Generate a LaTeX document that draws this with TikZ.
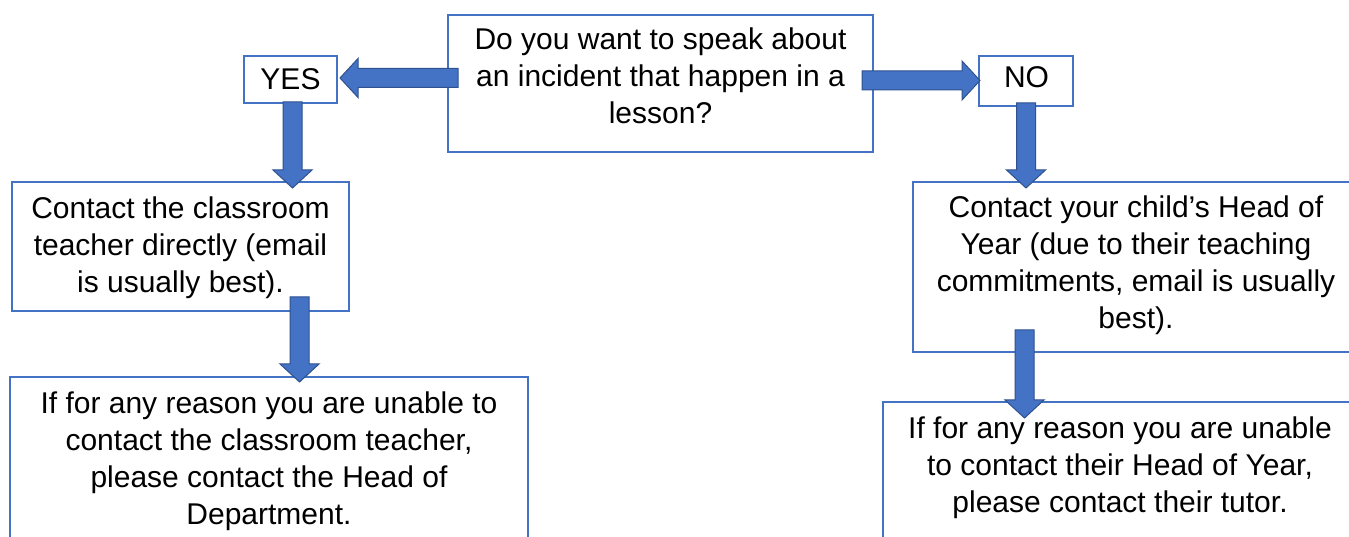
\documentclass[tikz,border=0pt]{standalone}
\usepackage{fontspec}
\setmainfont{Liberation Sans}
\usetikzlibrary{calc}
\definecolor{boxblue}{HTML}{4472C4}
\definecolor{arrowedge}{HTML}{2F528F}
\tikzset{
  box/.style={draw=boxblue, line width=1.2pt, fill=white, inner sep=0pt, outer sep=0pt},
  txt/.style={align=center, inner sep=0pt, font=\fontsize{30}{37}\selectfont, anchor=base, text=black},
  blockarrow/.style={fill=boxblue, draw=arrowedge, line width=1pt, line join=miter,
    to path={
      let \p1=(\tikztostart), \p2=(\tikztotarget),
          \n1={atan2(\y2-\y1,\x2-\x1)}, \n2={veclen(\x2-\x1,\y2-\y1)}, \n3={\n2-18}
      in ($(\p1)+(\n1+90:9.5pt)$)
      -- ($(\p1)+(\n1:\n3)+(\n1+90:9.5pt)$)
      -- ($(\p1)+(\n1:\n3)+(\n1+90:19.5pt)$)
      -- (\p2)
      -- ($(\p1)+(\n1:\n3)+(\n1-90:19.5pt)$)
      -- ($(\p1)+(\n1:\n3)+(\n1-90:9.5pt)$)
      -- ($(\p1)+(\n1-90:9.5pt)$)
      -- cycle}}
}
\begin{document}
\begin{tikzpicture}[x=1pt,y=1pt]
\useasboundingbox (0,0) rectangle (1349,537);
\clip (0,0) rectangle (1349,537);
\fill[white] (0,0) rectangle (1349,537);
% boxes
\node[box, minimum width=425pt, minimum height=137pt] (q) at (660.5,453.5) {};
\node[box, minimum width=93pt, minimum height=47pt] (yes) at (290.5,457.5) {};
\node[box, minimum width=94pt, minimum height=50pt] (no) at (1026,456) {};
\node[box, minimum width=337pt, minimum height=129pt] (c1) at (180.5,290.5) {};
\node[box, minimum width=518pt, minimum height=168pt] (d1) at (269,76) {};
\node[box, minimum width=446pt, minimum height=170pt] (c2) at (1136,270) {};
\node[box, minimum width=474pt, minimum height=145pt] (d2) at (1120,62.5) {};
% texts (base anchor = baseline of the last line)
\node[txt] (qt) at (660.5,413.2) {Do you want to speak about\\an incident that happen in a\\lesson?};
\node[txt] (yest) at (290.5,447) {YES};
\node[txt] (not) at (1026.5,449) {NO};
\node[txt] (c1t) at (180.5,244.3) {Contact the classroom\\teacher directly (email\\is usually best).};
\node[txt] (d1t) at (269,12.8) {If for any reason you are unable to\\contact the classroom teacher,\\please contact the Head of\\Department.};
\node[txt] (c2t) at (1136,208.5) {Contact your child’s Head of\\Year (due to their teaching\\commitments, email is usually\\best).};
\node[txt] (d2t) at (1120,24) {If for any reason you are unable\\to contact their Head of Year,\\please contact their tutor.};
% arrows
\draw[blockarrow] ($(q.west |- yes.east)+(10,1.5)$) to ($(yes.east)+(3,1.5)$);
\draw[blockarrow] ($(q.east |- no.west)+(-11,0.5)$) to ($(no.west)+(1,0.5)$);
\draw[blockarrow] ($(yes.south)+(2,1)$) to ($(yes.south |- c1.north)+(2,-6)$);
\draw[blockarrow] ($(no.south)+(0,3)$) to ($(no.south |- c2.north)+(0,-6)$);
\draw[blockarrow] ($(d1.north |- c1.south)+(30.5,14)$) to ($(d1.north)+(30.5,-5)$);
\draw[blockarrow] ($(no.south |- c2.south)+(-1.5,22)$) to ($(no.south |- d2.north)+(-1.5,-16)$);
\end{tikzpicture}
\end{document}
